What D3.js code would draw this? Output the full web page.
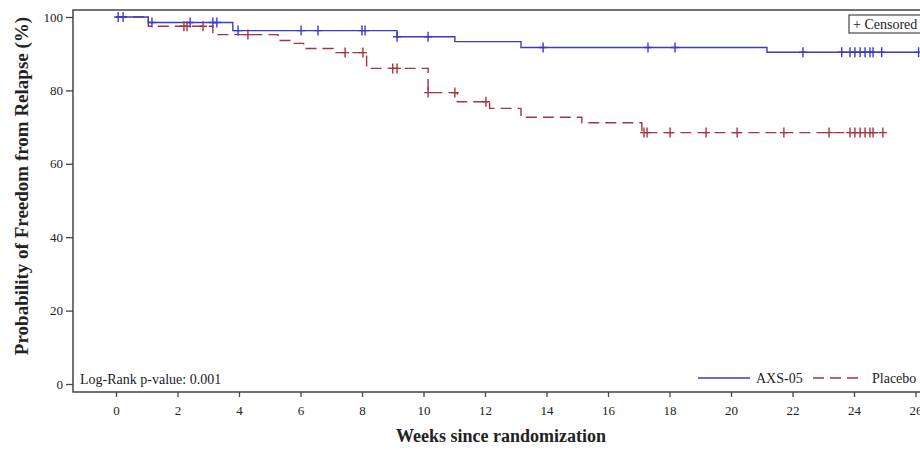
<!DOCTYPE html>
<html>
<head>
<meta charset="utf-8">
<script src="https://cdn.jsdelivr.net/npm/d3@7"></script>
<style>
  body { margin: 0; background: #fff; }
  svg text { font-family: "Liberation Serif", "Times New Roman", serif; fill: #222; }
</style>
</head>
<body>
<div id="chart"></div>
<script>
// Kaplan-Meier step data (weeks, survival %)
var axsTimes = [0, 1.05, 3.8, 9.14, 11.02, 13.17, 21.17];
var axsSurv = [100, 98.5, 96.3, 94.6, 93.3, 91.7, 90.4];
var axsEnd = 26.1;
var axsCensor = [0.07, 0.23, 1.17, 2.41, 3.15, 3.28, 3.97, 6.02, 6.57, 8.0, 8.1, 9.14, 10.15,
                 13.89, 17.3, 18.18, 22.34, 23.6, 23.87, 24.03, 24.2, 24.36, 24.52, 24.62, 24.9, 26.1];

var plaTimes = [0, 1.05, 3.15, 5.27, 5.72, 6.1, 7.06, 8.15, 10.15, 11.1, 12.15, 13.17, 15.15, 17.1];
var plaSurv = [100, 97.5, 95.2, 93.6, 92.8, 91.4, 90.3, 86.0, 79.4, 76.9, 75.1, 72.7, 71.2, 68.5];
var plaEnd = 24.94;
var plaCensor = [2.21, 2.31, 2.83, 4.29, 7.45, 8.03, 9.0, 9.14, 10.15, 11.02, 12.03,
                 17.17, 17.27, 18.02, 19.19, 20.2, 21.72, 23.19, 23.87, 24.03, 24.2, 24.36, 24.52, 24.62, 24.94];

var xTicks = [0, 2, 4, 6, 8, 10, 12, 14, 16, 18, 20, 22, 24, 26];
var yTicks = [0, 20, 40, 60, 80, 100];

var blue = '#3b3bc9', red = '#a8323f', axisColor = '#444';

var width = 920, height = 450;
var frame = { left: 73, top: 10, bottom: 392, right: 935 };

var svg = d3.select('#chart').append('svg')
    .attr('width', width).attr('height', height);

var x = d3.scaleLinear().domain([0, 26]).range([116, 915.5]);
var y = d3.scaleLinear().domain([0, 100]).range([384, 17]);

// survival value at time t (step function)
function survAt(times, surv, t) {
    var v = surv[0];
    for (var i = 0; i < times.length; i++) { if (times[i] <= t) v = surv[i]; }
    return v;
}

// Frame
svg.append('rect')
    .attr('x', frame.left).attr('y', frame.top)
    .attr('width', frame.right - frame.left).attr('height', frame.bottom - frame.top)
    .attr('fill', 'none').attr('stroke', axisColor).attr('stroke-width', 1.5);

// X axis
var xAxis = d3.axisBottom(x).tickValues(xTicks).tickSize(5).tickSizeOuter(0);
var gx = svg.append('g').attr('transform', 'translate(0,' + frame.bottom + ')').call(xAxis);
gx.select('.domain').remove();
gx.selectAll('line').attr('stroke', axisColor).attr('stroke-width', 1.3);
gx.selectAll('text').attr('dy', null).attr('y', 23).style('font-size', '13px')
    .style('font-family', '"Liberation Serif", serif').attr('fill', '#222');

// Y axis
var yAxis = d3.axisLeft(y).tickValues(yTicks).tickSize(7).tickSizeOuter(0);
var gy = svg.append('g').attr('transform', 'translate(' + frame.left + ',0)').call(yAxis);
gy.select('.domain').remove();
gy.selectAll('line').attr('stroke', axisColor).attr('stroke-width', 1.3);
gy.selectAll('text').attr('x', -10).style('font-size', '13px')
    .style('font-family', '"Liberation Serif", serif').attr('fill', '#222');

// Axis titles
svg.append('text')
    .attr('x', 501).attr('y', 442)
    .attr('text-anchor', 'middle')
    .style('font-size', '18px').style('font-weight', 'bold')
    .text('Weeks since randomization');
svg.append('text')
    .attr('transform', 'translate(28,186) rotate(-90)')
    .attr('text-anchor', 'middle')
    .style('font-size', '19px').style('font-weight', 'bold')
    .text('Probability of Freedom from Relapse (%)');

// Step curves
var line = d3.line()
    .x(function(d) { return x(d[0]); })
    .y(function(d) { return y(d[1]); })
    .curve(d3.curveStepAfter);

function stepData(times, surv, end) {
    var pts = times.map(function(t, i) { return [t, surv[i]]; });
    pts.push([end, surv[surv.length - 1]]);
    return pts;
}

svg.append('path')
    .datum(stepData(plaTimes, plaSurv, plaEnd))
    .attr('d', line)
    .attr('fill', 'none').attr('stroke', red).attr('stroke-width', 1.4)
    .attr('stroke-dasharray', '11,6');

svg.append('path')
    .datum(stepData(axsTimes, axsSurv, axsEnd))
    .attr('d', line)
    .attr('fill', 'none').attr('stroke', blue).attr('stroke-width', 1.4);

// Censor marks
function plus(cx, cy) {
    return 'M' + (cx - 4) + ',' + cy + 'H' + (cx + 4) + 'M' + cx + ',' + (cy - 5) + 'V' + (cy + 5);
}
svg.append('g').selectAll('path').data(plaCensor).enter().append('path')
    .attr('d', function(t) { return plus(x(t), y(survAt(plaTimes, plaSurv, t))); })
    .attr('stroke', red).attr('stroke-width', 1.4).attr('fill', 'none');
svg.append('g').selectAll('path').data(axsCensor).enter().append('path')
    .attr('d', function(t) { return plus(x(t), y(survAt(axsTimes, axsSurv, t))); })
    .attr('stroke', blue).attr('stroke-width', 1.4).attr('fill', 'none');

// Censored box
svg.append('rect')
    .attr('x', 849).attr('y', 15).attr('width', 90).attr('height', 18)
    .attr('fill', '#fff').attr('stroke', '#222').attr('stroke-width', 1);
svg.append('text')
    .attr('x', 853).attr('y', 29)
    .style('font-size', '14px')
    .text('+ Censored');

// Log-rank text
svg.append('text')
    .attr('x', 80).attr('y', 384)
    .style('font-size', '14px')
    .text('Log-Rank p-value: 0.001');

// Legend
svg.append('line').attr('x1', 698).attr('x2', 750).attr('y1', 378).attr('y2', 378)
    .attr('stroke', blue).attr('stroke-width', 1.4);
svg.append('text').attr('x', 756).attr('y', 383).style('font-size', '14px').text('AXS-05');
svg.append('line').attr('x1', 813).attr('x2', 862).attr('y1', 378).attr('y2', 378)
    .attr('stroke', red).attr('stroke-width', 1.4).attr('stroke-dasharray', '11,6');
svg.append('text').attr('x', 872).attr('y', 383).style('font-size', '14px').text('Placebo');
</script>
</body>
</html>
